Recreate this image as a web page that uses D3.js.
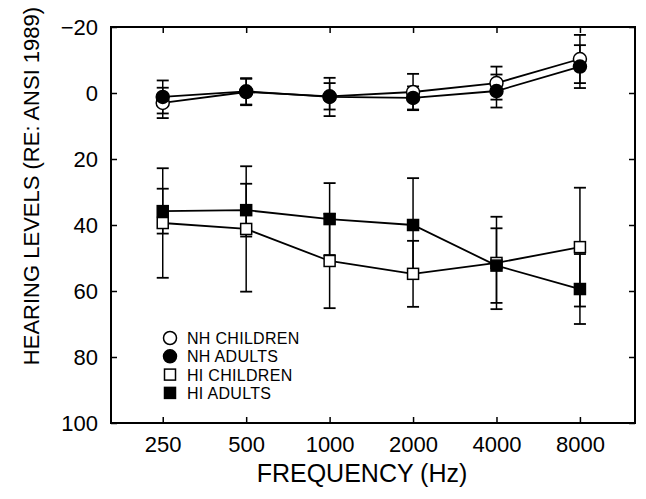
<!DOCTYPE html>
<html>
<head>
<meta charset="utf-8">
<script src="https://cdn.jsdelivr.net/npm/d3@7"></script>
<style>
  body { margin: 0; background: #fff; }
  text { font-family: "Liberation Sans", Arial, sans-serif; fill: #000; }
</style>
</head>
<body>
<script>
// frequencies (Hz) along the x axis
var freqs = ["250", "500", "1000", "2000", "4000", "8000"];
var yTicks = [-20, 0, 20, 40, 60, 80, 100];

// mean hearing levels (dB) and standard deviations per group
var nhChildren = [3, -0.3, 1, -0.3, -3, -10.3];
var nhChildrenSd = [4.6, 4, 4, 5.5, 5, 7.3];
var nhAdults = [1.2, -0.5, 1.2, 1.5, -0.6, -8];
var nhAdultsSd = [5, 4, 5.8, 3.5, 5, 6.5];
var hiChildren = [39.4, 41.2, 50.9, 54.8, 51.5, 46.7];
var hiChildrenSd = [16.6, 19, 14.3, 10, 14, 18];
var hiAdults = [35.8, 35.5, 38.2, 40, 52.3, 59.4];
var hiAdultsSd = [6.8, 8, 10.9, 14.2, 11.3, 10.6];

var groups = [
  { name: "NH CHILDREN", values: nhChildren, sd: nhChildrenSd, shape: "circle", filled: false },
  { name: "NH ADULTS", values: nhAdults, sd: nhAdultsSd, shape: "circle", filled: true },
  { name: "HI CHILDREN", values: hiChildren, sd: hiChildrenSd, shape: "square", filled: false },
  { name: "HI ADULTS", values: hiAdults, sd: hiAdultsSd, shape: "square", filled: true }
];

var svgWidth = 646;
var svgHeight = 499;
var plotLeft = 111, plotRight = 635, plotTop = 27, plotBottom = 423;

var svg = d3.select("body")
            .append("svg")
            .attr("width", svgWidth)
            .attr("height", svgHeight);

// x positions by index, frame extends a bit past first/last frequency
var xScale = d3.scaleLinear()
               .domain([-0.62, 5.66])
               .range([plotLeft, plotRight]);

var yScale = d3.scaleLinear()
               .domain([-20, 100])
               .range([plotTop, plotBottom]);

// frame
svg.append("rect")
   .attr("x", plotLeft)
   .attr("y", plotTop)
   .attr("width", plotRight - plotLeft)
   .attr("height", plotBottom - plotTop)
   .attr("fill", "none")
   .attr("stroke", "#000")
   .attr("stroke-width", 2);

// axes, ticks pointing inward
var xIdx = d3.range(freqs.length);
svg.append("g")
   .attr("transform", "translate(0," + plotBottom + ")")
   .call(d3.axisBottom(xScale).tickValues(xIdx).tickSize(-6).tickPadding(13)
     .tickFormat(function(i) { return freqs[i]; }))
   .call(function(g) {
     g.select(".domain").remove();
     g.selectAll("line").attr("stroke-width", 1.5);
     g.selectAll("text").attr("font-size", 22).attr("fill", "#000");
   });

svg.append("g")
   .attr("transform", "translate(0," + plotTop + ")")
   .call(d3.axisTop(xScale).tickValues(xIdx).tickSize(-6).tickFormat(""))
   .call(function(g) {
     g.select(".domain").remove();
     g.selectAll("line").attr("stroke-width", 1.5);
   });

svg.append("g")
   .attr("transform", "translate(" + plotLeft + ",0)")
   .call(d3.axisLeft(yScale).tickValues(yTicks).tickSize(-6).tickPadding(13)
     .tickFormat(function(d) { return d < 0 ? "\u2212" + Math.abs(d) : d; }))
   .call(function(g) {
     g.select(".domain").remove();
     g.selectAll("line").attr("stroke-width", 1.5);
     g.selectAll("text").attr("font-size", 22).attr("fill", "#000");
   });

svg.append("g")
   .attr("transform", "translate(" + plotRight + ",0)")
   .call(d3.axisRight(yScale).tickValues(yTicks).tickSize(-6).tickFormat(""))
   .call(function(g) {
     g.select(".domain").remove();
     g.selectAll("line").attr("stroke-width", 1.5);
   });

// axis titles
svg.append("text")
   .attr("x", 362)
   .attr("y", 482)
   .attr("text-anchor", "middle")
   .attr("font-size", 25)
   .text("FREQUENCY (Hz)");

svg.append("text")
   .attr("transform", "translate(39," + 186 + ") rotate(-90)")
   .attr("text-anchor", "middle")
   .attr("font-size", 22)
   .text("HEARING LEVELS (RE: ANSI 1989)");

var line = d3.line()
             .x(function(d, i) { return xScale(i); })
             .y(function(d) { return yScale(d); });

// error bars
groups.forEach(function(g) {
  var eb = svg.append("g");
  g.values.forEach(function(v, i) {
    var x = xScale(i);
    var y1 = yScale(v - g.sd[i]), y2 = yScale(v + g.sd[i]);
    eb.append("line").attr("x1", x).attr("x2", x).attr("y1", y1).attr("y2", y2)
      .attr("stroke", "#000").attr("stroke-width", 1.5);
    [y1, y2].forEach(function(y) {
      eb.append("line").attr("x1", x - 6).attr("x2", x + 6).attr("y1", y).attr("y2", y)
        .attr("stroke", "#000").attr("stroke-width", 1.8);
    });
  });
});

// lines
groups.forEach(function(g) {
  svg.append("path")
     .datum(g.values)
     .attr("d", line)
     .attr("fill", "none")
     .attr("stroke", "#000")
     .attr("stroke-width", 1.8);
});

function drawMarker(sel, shape, filled, x, y) {
  if (shape == "circle") {
    sel.append("circle").attr("cx", x).attr("cy", y).attr("r", 6.5)
       .attr("fill", filled ? "#000" : "#fff").attr("stroke", "#000").attr("stroke-width", 1.5);
  } else {
    sel.append("rect").attr("x", x - 5.5).attr("y", y - 5.5).attr("width", 11).attr("height", 11)
       .attr("fill", filled ? "#000" : "#fff").attr("stroke", "#000").attr("stroke-width", 1.5);
  }
}

// markers
groups.forEach(function(g) {
  var m = svg.append("g");
  g.values.forEach(function(v, i) {
    drawMarker(m, g.shape, g.filled, xScale(i), yScale(v));
  });
});

// legend
var legend = svg.selectAll(".legend")
  .data(groups)
  .enter().append("g")
  .attr("class", "legend")
  .attr("transform", function(d, i) {
    return "translate(170," + (338 + i * 18.3) + ")";
  });

legend.each(function(d) {
  drawMarker(d3.select(this), d.shape, d.filled, 0, 0);
});

legend.append("text")
  .attr("x", 17)
  .attr("y", 6)
  .attr("font-size", 16)
  .attr("letter-spacing", 0.3)
  .text(function(d) { return d.name; });
</script>
</body>
</html>
